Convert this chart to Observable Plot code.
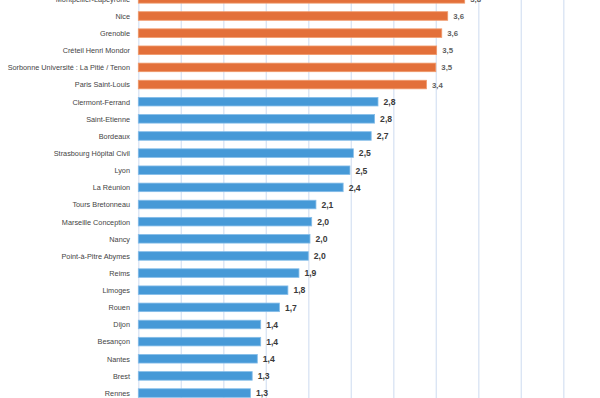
<!DOCTYPE html>
<html>
<head>
<meta charset="utf-8">
<script src="https://cdn.jsdelivr.net/npm/d3@7"></script>
<script src="https://cdn.jsdelivr.net/npm/@observablehq/plot@0.6"></script>
<style>
  html, body { margin: 0; padding: 0; background: #fff; }
</style>
</head>
<body>
<div id="chart"></div>
<script>
const names = [
  "Montpellier-Lapeyronie", "Nice", "Grenoble", "Créteil Henri Mondor",
  "Sorbonne Université : La Pitié / Tenon", "Paris Saint-Louis",
  "Clermont-Ferrand", "Saint-Etienne", "Bordeaux", "Strasbourg Hôpital Civil",
  "Lyon", "La Réunion", "Tours Bretonneau", "Marseille Conception", "Nancy",
  "Point-à-Pitre Abymes", "Reims", "Limoges", "Rouen", "Dijon", "Besançon",
  "Nantes", "Brest", "Rennes"
];
const values = [
  3.84, 3.64, 3.57, 3.51, 3.50, 3.39,
  2.82, 2.78, 2.74, 2.53, 2.49, 2.41,
  2.09, 2.04, 2.02, 2.00, 1.89, 1.76,
  1.66, 1.44, 1.44, 1.40, 1.34, 1.32
];
const groups = [
  "top", "top", "top", "top", "top", "top",
  "rest", "rest", "rest", "rest", "rest", "rest",
  "rest", "rest", "rest", "rest", "rest", "rest",
  "rest", "rest", "rest", "rest", "rest", "rest"
];
const gridTicks = [0, 0.5, 1, 1.5, 2, 2.5, 3, 3.5, 4, 4.5, 5, 5.5];

const data = names.map((n, i) => ({name: n, value: values[i], group: groups[i]}));
const fmt = v => v.toFixed(1).replace(".", ",");

const fill = {top: "#e3703a", rest: "#4699d7"};
const edge = {top: "#f09a6c", rest: "#85bde9"};

const chart = Plot.plot({
  width: 600,
  height: 398,
  marginLeft: 138,
  marginRight: 0,
  marginTop: 0,
  marginBottom: 0,
  style: {fontFamily: "'Liberation Sans', Arial, sans-serif", background: "#fff"},
  x: {domain: [0, 5.5], range: [138.3, 605.8], axis: null},
  y: {domain: names, range: [-14, 405.9], padding: 0.5, round: false, axis: null, label: null},
  marks: [
    Plot.ruleX(gridTicks, {x: d => d, stroke: "#dbe5f4", strokeWidth: 1.4}),
    Plot.barX(data, {
      x: "value", y: "name",
      fill: d => fill[d.group],
      stroke: d => edge[d.group],
      strokeWidth: 0.8
    }),
    Plot.axisY({
      anchor: "left", tickSize: 0, tickPadding: 8.5, label: null,
      fontSize: 7.3, color: "#444"
    }),
    Plot.text(data.filter(d => d.group === "top"), {
      x: "value", y: "name", text: d => fmt(d.value),
      dx: 5, textAnchor: "start", fontSize: 7.8, fontWeight: "bold", fill: "#5f5f5f"
    }),
    Plot.text(data.filter(d => d.group === "rest"), {
      x: "value", y: "name", text: d => fmt(d.value),
      dx: 5, textAnchor: "start", fontSize: 8.6, fontWeight: "bold", fill: "#3a3a3a"
    })
  ]
});
document.getElementById("chart").appendChild(chart);
</script>
</body>
</html>
